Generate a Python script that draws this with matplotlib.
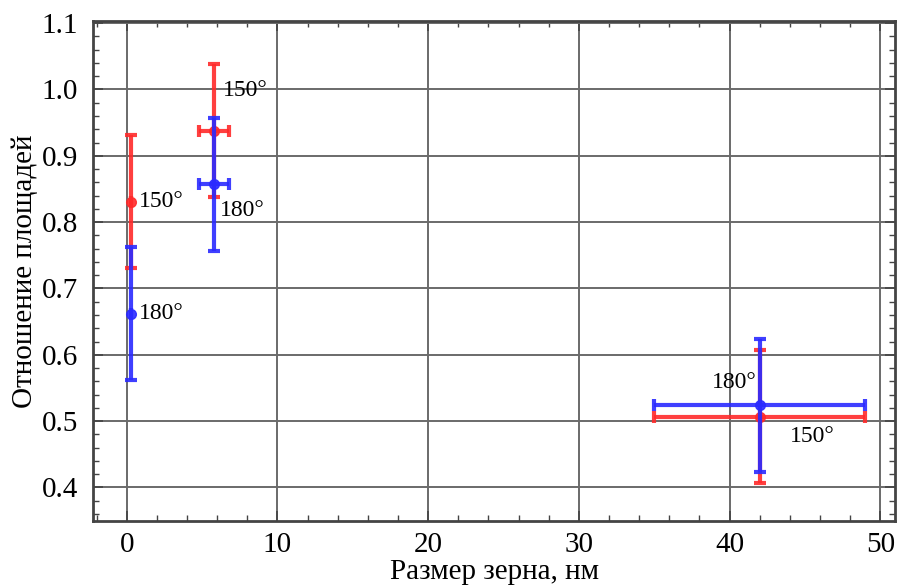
import numpy as np
import matplotlib.pyplot as plt
from matplotlib.ticker import MultipleLocator

plt.rcParams['font.family'] = ['Liberation Serif', 'DejaVu Serif']

# grain size, nm
x_150 = [0.3, 5.8, 42.0]
y_150 = [0.831, 0.938, 0.507]
xerr_150 = [0.0, 1.0, 7.0]
yerr_150 = [0.1, 0.1, 0.1]

x_180 = [0.3, 5.8, 42.0]
y_180 = [0.662, 0.857, 0.524]
xerr_180 = [0.0, 1.0, 7.0]
yerr_180 = [0.1, 0.1, 0.1]

labels_150 = ['150°', '150°', '150°']
labels_180 = ['180°', '180°', '180°']

fig = plt.figure(figsize=(8.99, 5.87), dpi=100)
ax = fig.add_axes([0.104, 0.113, 0.892, 0.851])

ax.errorbar(x_150, y_150, xerr=xerr_150, yerr=yerr_150, fmt='o', color='#ff2a2a',
            ms=7, elinewidth=3, capsize=4, capthick=3, alpha=0.9, zorder=3)
ax.errorbar(x_180, y_180, xerr=xerr_180, yerr=yerr_180, fmt='o', color='#2a2aff',
            ms=7, elinewidth=3, capsize=4, capthick=3, alpha=0.9, zorder=4)

# point labels
offs_150 = [(0.5, 0.0, 'left'), (0.6, 0.06, 'left'), (2.0, -0.03, 'left')]
offs_180 = [(0.5, 0.0, 'left'), (0.4, -0.04, 'left'), (-0.2, 0.034, 'right')]
for i in range(3):
    dx, dy, ha = offs_150[i]
    ax.text(x_150[i] + dx, y_150[i] + dy, labels_150[i], fontsize=17, ha=ha, va='center')
    dx, dy, ha = offs_180[i]
    ax.text(x_180[i] + dx, y_180[i] + dy, labels_180[i], fontsize=17, ha=ha, va='center')

ax.set_xlim(-2.2, 51)
ax.set_ylim(0.35, 1.103)
ax.xaxis.set_major_locator(MultipleLocator(10))
ax.xaxis.set_minor_locator(MultipleLocator(2))
ax.yaxis.set_major_locator(MultipleLocator(0.1))
ax.yaxis.set_minor_locator(MultipleLocator(0.02))
ax.yaxis.set_major_formatter(plt.FuncFormatter(lambda v, p: '%.1f' % v))
ax.grid(True, which='major', color='#6a6a6a', linewidth=1.4)
ax.tick_params(which='both', direction='in', top=True, right=True, labelsize=21,
               color='#444444')
ax.tick_params(axis='y', pad=11)
ax.tick_params(axis='x', pad=8)
ax.tick_params(which='major', length=7, width=1.2)
ax.tick_params(which='minor', length=4, width=1.0)
for s in ax.spines.values():
    s.set_color('#444444')
    s.set_linewidth(2)

ax.set_xlabel('Размер зерна, нм', fontsize=21, labelpad=1)
ax.set_ylabel('Отношение площадей', fontsize=21, labelpad=3)

fig.savefig('out.png', dpi=100)
